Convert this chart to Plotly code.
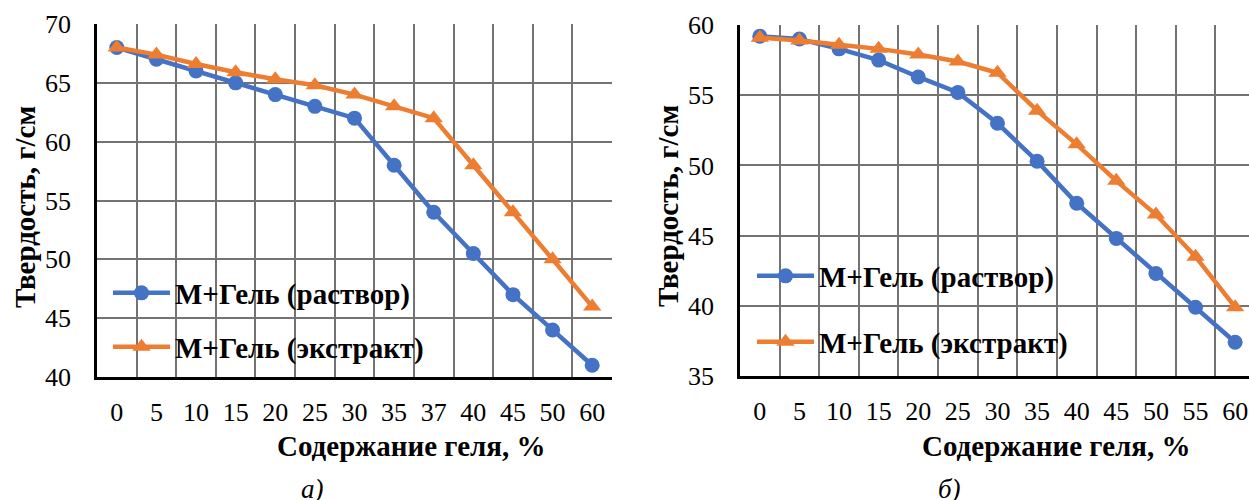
import plotly.graph_objects as go

# Gel content categories (%), panel а) and panel б)
cats_a = ["0", "5", "10", "15", "20", "25", "30", "35", "37", "40", "45", "50", "60"]
cats_b = ["0", "5", "10", "15", "20", "25", "30", "35", "40", "45", "50", "55", "60"]

# Hardness, g/cm
solution_a = [68, 67, 66, 65, 64, 63, 62, 58, 54, 50.5, 47, 44, 41]
extract_a = [68, 67.4, 66.6, 65.9, 65.3, 64.8, 64, 63, 62, 58, 54, 50, 46]
solution_b = [59.2, 59.0, 58.3, 57.5, 56.3, 55.2, 53.0, 50.3, 47.3, 44.8, 42.3, 39.9, 37.4]
extract_b = [59.1, 58.9, 58.6, 58.3, 57.9, 57.4, 56.6, 53.9, 51.5, 48.9, 46.5, 43.5, 39.9]

name_solution = "М+Гель (раствор)"
name_extract = "М+Гель (экстракт)"
y_title = "Твердость, г/см"
x_title = "Содержание геля, %"
panel_labels = ["а)", "б)"]

BLUE = "#4472C4"
ORANGE = "#ED7D31"
SERIF = "Liberation Serif"
GRID = "#737373"

W, H = 1249, 500


def px(x):
    return x / W


def py(y):
    return 1 - y / H


fig = go.Figure()

series = [
    (cats_a, solution_a, name_solution, BLUE, "circle", "x", "y", "legend"),
    (cats_a, extract_a, name_extract, ORANGE, "triangle-up", "x", "y", "legend2"),
    (cats_b, solution_b, name_solution, BLUE, "circle", "x2", "y2", "legend3"),
    (cats_b, extract_b, name_extract, ORANGE, "triangle-up", "x2", "y2", "legend4"),
]
for xs, ys, name, color, symbol, xa, ya, lg in series:
    fig.add_trace(go.Scatter(
        x=xs, y=ys, name="<b>" + name + "</b>", mode="lines+markers",
        line=dict(color=color, width=4.5),
        marker=dict(symbol=symbol, size=15 if symbol == "circle" else 16, color=color),
        xaxis=xa, yaxis=ya, legend=lg, cliponaxis=False,
    ))

tick_font = dict(family=SERIF, size=26, color="black")

xcommon = dict(
    type="category", tickson="boundaries", showgrid=True, gridcolor=GRID, gridwidth=2,
    showline=True, linecolor="black", linewidth=2.5, ticks="", tickfont=tick_font,
    ticklabelstandoff=10, zeroline=False, fixedrange=True, automargin=False,
)
ycommon = dict(
    dtick=5, showgrid=True, gridcolor=GRID, gridwidth=2, showline=True,
    linecolor="black", linewidth=2.5, ticks="", tickfont=tick_font,
    ticklabelstandoff=18, zeroline=False, fixedrange=True, automargin=False,
)

legend_common = dict(
    font=dict(family=SERIF, size=29, color="black"),
    bgcolor="rgba(0,0,0,0)", itemwidth=57, xanchor="left", yanchor="middle",
    itemclick=False, itemdoubleclick=False,
)

fig.update_layout(
    width=W, height=H, margin=dict(l=0, r=0, t=0, b=0, autoexpand=False),
    font=dict(family=SERIF, color="black"),
    paper_bgcolor="white", plot_bgcolor="white",
    xaxis=dict(domain=[px(97), px(612)], anchor="y", range=[-0.5, 12.5], **xcommon),
    yaxis=dict(domain=[py(377), py(24)], anchor="x", range=[40, 70], **ycommon),
    xaxis2=dict(domain=[px(740), 1.0], anchor="y2", range=[-0.5, 12.35], **xcommon),
    yaxis2=dict(domain=[py(376), py(25)], anchor="x2", range=[35, 60], **ycommon),
    legend=dict(x=px(108), y=py(293), **legend_common),
    legend2=dict(x=px(108), y=py(347), **legend_common),
    legend3=dict(x=px(752), y=py(276), **legend_common),
    legend4=dict(x=px(752), y=py(342), **legend_common),
    showlegend=True,
)

title_font = dict(family=SERIF, size=29, color="black")
label_font = dict(family=SERIF, size=27, color="black")

annotations = [
    dict(text="<b>" + y_title + "</b>", x=px(25), y=py(207), textangle=-90, font=title_font),
    dict(text="<b>" + y_title + "</b>", x=px(668), y=py(206), textangle=-90, font=title_font),
    dict(text="<b>" + x_title + "</b>", x=px(411), y=py(446), font=title_font),
    dict(text="<b>" + x_title + "</b>", x=px(1056), y=py(446), font=title_font),
    dict(text="<i>" + panel_labels[0] + "</i>", x=px(312), y=py(489), font=label_font),
    dict(text="<i>" + panel_labels[1] + "</i>", x=px(950), y=py(489), font=label_font),
]
for a in annotations:
    fig.add_annotation(xref="paper", yref="paper", showarrow=False,
                       xanchor="center", yanchor="middle", **a)

fig.write_html("out.html", config={"displayModeBar": False})
